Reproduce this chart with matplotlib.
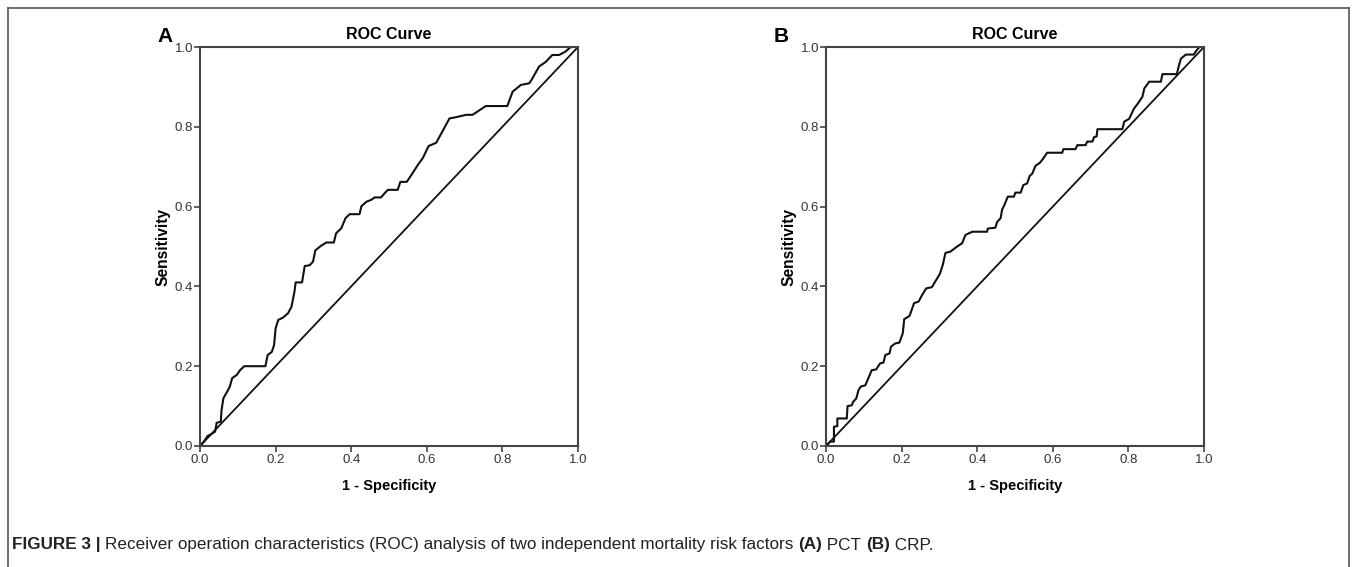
import matplotlib
matplotlib.use('Agg')
import matplotlib.pyplot as plt
from matplotlib.lines import Line2D

# ROC points (1 - specificity, sensitivity)
fpr_pct = [0.0, 0.011, 0.02, 0.03, 0.04, 0.044, 0.055, 0.057, 0.062, 0.07, 0.079,
           0.085, 0.097, 0.106, 0.117, 0.173, 0.179, 0.19, 0.196, 0.2, 0.207,
           0.22, 0.233, 0.242, 0.25, 0.253, 0.27, 0.277, 0.29, 0.299, 0.305,
           0.319, 0.334, 0.354, 0.36, 0.374, 0.385, 0.396, 0.422, 0.427, 0.44,
           0.453, 0.462, 0.479, 0.488, 0.497, 0.523, 0.53, 0.547, 0.559, 0.576,
           0.589, 0.605, 0.625, 0.66, 0.677, 0.704, 0.721, 0.756, 0.813, 0.827,
           0.849, 0.871, 0.878, 0.897, 0.915, 0.932, 0.95, 0.966, 0.981, 1.0]
tpr_pct = [0.0, 0.012, 0.025, 0.03, 0.036, 0.058, 0.061, 0.09, 0.12, 0.133, 0.149,
           0.17, 0.178, 0.19, 0.2, 0.2, 0.228, 0.236, 0.253, 0.295, 0.316,
           0.322, 0.333, 0.349, 0.387, 0.41, 0.41, 0.451, 0.453, 0.462, 0.49,
           0.501, 0.51, 0.51, 0.533, 0.546, 0.571, 0.581, 0.581, 0.601, 0.612,
           0.617, 0.623, 0.623, 0.633, 0.642, 0.642, 0.662, 0.662, 0.679, 0.704,
           0.721, 0.752, 0.76, 0.821, 0.824, 0.83, 0.83, 0.852, 0.852, 0.888,
           0.905, 0.909, 0.919, 0.951, 0.963, 0.98, 0.98, 0.988, 1.0, 1.0]

fpr_crp = [0.0, 0.011, 0.021, 0.021, 0.03, 0.03, 0.055, 0.057, 0.068, 0.072, 0.08,
           0.086, 0.092, 0.104, 0.112, 0.121, 0.133, 0.143, 0.152, 0.157, 0.168,
           0.172, 0.183, 0.194, 0.203, 0.207, 0.221, 0.233, 0.245, 0.254, 0.265,
           0.28, 0.294, 0.301, 0.309, 0.316, 0.329, 0.347, 0.36, 0.369, 0.387,
           0.426, 0.428, 0.448, 0.453, 0.462, 0.466, 0.471, 0.481, 0.497, 0.501,
           0.515, 0.522, 0.532, 0.539, 0.546, 0.554, 0.566, 0.572, 0.585, 0.625,
           0.628, 0.66, 0.665, 0.687, 0.691, 0.705, 0.709, 0.716, 0.718, 0.784,
           0.789, 0.802, 0.815, 0.824, 0.837, 0.842, 0.855, 0.886, 0.89, 0.928,
           0.934, 0.939, 0.952, 0.973, 0.979, 0.988, 1.0]
tpr_crp = [0.0, 0.011, 0.011, 0.048, 0.05, 0.069, 0.069, 0.1, 0.102, 0.111, 0.119,
           0.14, 0.149, 0.152, 0.17, 0.19, 0.192, 0.207, 0.209, 0.228, 0.232,
           0.249, 0.257, 0.259, 0.282, 0.318, 0.326, 0.358, 0.362, 0.378, 0.395,
           0.398, 0.42, 0.431, 0.454, 0.484, 0.487, 0.5, 0.508, 0.529, 0.537,
           0.537, 0.545, 0.547, 0.562, 0.571, 0.593, 0.602, 0.625, 0.625, 0.635,
           0.635, 0.654, 0.658, 0.677, 0.683, 0.702, 0.71, 0.717, 0.735, 0.735,
           0.744, 0.744, 0.754, 0.754, 0.763, 0.763, 0.774, 0.776, 0.794, 0.794,
           0.813, 0.82, 0.846, 0.857, 0.875, 0.896, 0.913, 0.913, 0.932, 0.932,
           0.955, 0.971, 0.981, 0.981, 0.99, 1.0, 1.0]

ticks = [0.0, 0.2, 0.4, 0.6, 0.8, 1.0]
tick_labels = ['0.0', '0.2', '0.4', '0.6', '0.8', '1.0']

# letter, x values, y values, axes left edge (px), letter centre x (px)
panels = [('A', fpr_pct, tpr_pct, 200, 165), ('B', fpr_crp, tpr_crp, 826, 781)]

plt.rcParams['font.family'] = ['Liberation Sans', 'DejaVu Sans']

W, H = 1357, 567
fig = plt.figure(figsize=(W / 100, H / 100), dpi=100)
spine_col = '#444444'

for letter, fx, ty, left_px, letter_x in panels:
    ax = fig.add_axes([left_px / W, (H - 446) / H, 378 / W, 399 / H])
    ax.plot([0, 1], [0, 1], color='#111111', lw=1.3)
    ax.plot(fx, ty, color='#111111', lw=1.5)
    ax.set_xlim(0, 1)
    ax.set_ylim(0, 1)
    ax.set_xticks(ticks)
    ax.set_xticklabels(tick_labels)
    ax.set_yticks(ticks)
    ax.set_yticklabels(tick_labels)
    ax.tick_params(direction='out', length=4, width=1.2, color=spine_col,
                   labelsize=9.5, labelcolor='#333333', pad=2)
    ax.tick_params(axis='y', pad=1)
    for s in ax.spines.values():
        s.set_color(spine_col)
        s.set_linewidth(1.5)
    ax.set_title('ROC Curve', fontsize=11.5, fontweight='bold', pad=6)
    ax.set_xlabel('1 - Specificity', fontsize=10.5, fontweight='bold', labelpad=9)
    ax.set_ylabel('Sensitivity', fontsize=11.2, fontweight='bold', labelpad=3)
    fig.text(letter_x / W, 1 - 36 / H, letter, fontsize=15,
             fontweight='bold', ha='center', va='center')

# figure frame
fcol = '#555555'
fig.add_artist(Line2D([8 / W, 8 / W], [0, 1 - 8 / H], color=fcol, lw=1.2))
fig.add_artist(Line2D([8 / W, 1349 / W], [1 - 8 / H, 1 - 8 / H], color=fcol, lw=1.2))
fig.add_artist(Line2D([1349 / W, 1349 / W], [0, 1 - 8 / H], color=fcol, lw=1.2))

# caption, built from pieces so parts can be bold
pieces = [('FIGURE 3 | ', 'bold'),
          ('Receiver operation characteristics (ROC) analysis of two independent '
           'mortality risk factors ', 'normal'),
          ('(A)', 'bold'), (' PCT ', 'normal'), ('(B)', 'bold'), (' CRP.', 'normal')]
fig.canvas.draw()
renderer = fig.canvas.get_renderer()
x = 12 / W
for txt, weight in pieces:
    t = fig.text(x, 1 - 545 / H, txt, fontsize=12.3, fontweight=weight,
                 ha='left', va='center', color='#222222')
    bb = t.get_window_extent(renderer=renderer)
    x = bb.x1 / W

fig.savefig('out.png', dpi=100)
